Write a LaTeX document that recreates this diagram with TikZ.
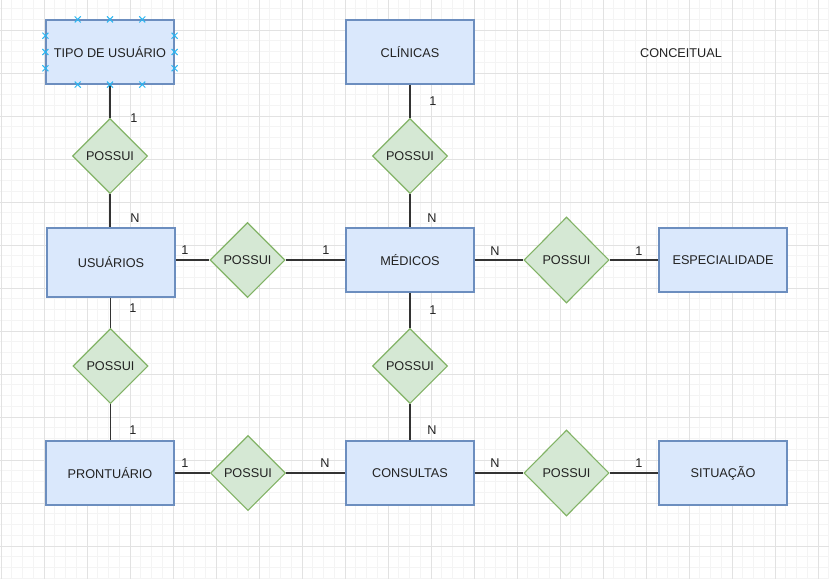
\documentclass[tikz,border=0pt]{standalone}
\usepackage{fontspec}
\setmainfont{Liberation Sans}
\usetikzlibrary{shapes.geometric,calc}

\definecolor{entfill}{HTML}{DAE8FC}
\definecolor{entline}{HTML}{6C8EBF}
\definecolor{relfill}{HTML}{D5E8D4}
\definecolor{relline}{HTML}{82B366}
\definecolor{gridminor}{HTML}{F4F4F4}
\definecolor{gridmajor}{HTML}{E2E2E2}
\definecolor{linkcol}{HTML}{333333}
\definecolor{textcol}{HTML}{222222}
\definecolor{handle}{HTML}{29B6F2}

\tikzset{
  base/.style={font=\fontsize{12.7}{15}\selectfont, text=textcol},
  entity/.style={base, draw=entline, fill=entfill, line width=1.1pt,
    minimum width=128pt, minimum height=64pt, inner sep=0pt},
  relation/.style={base, diamond, draw=relline, fill=relfill, line width=1.1pt,
    minimum width=75pt, minimum height=75pt, inner sep=0pt},
  bigrel/.style={relation, minimum width=85pt, minimum height=86pt},
  link/.style={draw=linkcol, line width=1.3pt},
  card/.style={base, inner sep=0pt},
  handlemark/.style={draw=handle, line width=1pt},
}

\begin{document}
\begin{tikzpicture}[x=1pt, y=-1pt]
  \useasboundingbox (0,0) rectangle (829,579);
  \fill[white] (0,0) rectangle (829,579);

  % background grid: fine lines, then every fourth line stronger
  \begin{scope}
    \clip (0,0) rectangle (829,579);
    \draw[gridminor, line width=0.8pt]
      foreach \k in {0,...,77} { ({1+10.75*\k},0) -- ({1+10.75*\k},579) }
      foreach \k in {-2,...,51} { (0,{30+10.75*\k}) -- (829,{30+10.75*\k}) };
    \draw[gridmajor, line width=0.9pt]
      foreach \k in {0,...,19} { ({1+43*\k},0) -- ({1+43*\k},579) }
      foreach \k in {0,...,12} { (0,{30+43*\k}) -- (829,{30+43*\k}) };
  \end{scope}

  % entities
  \node[entity] (tipo)  at (110,52)    {TIPO DE USUÁRIO};
  \node[entity] (clin)  at (410,52)    {CLÍNICAS};
  \node[entity, minimum height=69pt] (usu) at (111,262.5) {USUÁRIOS};
  \node[entity] (med)   at (410,260)   {MÉDICOS};
  \node[entity] (esp)   at (723,260)   {ESPECIALIDADE};
  \node[entity] (pront) at (110,473)   {PRONTUÁRIO};
  \node[entity] (cons)  at (410,473)   {CONSULTAS};
  \node[entity] (sit)   at (723,473)   {SITUAÇÃO};

  % relationships
  \node[relation] (rtipo)  at (110,156)   {POSSUI};
  \node[relation] (rclin)  at (410,156)   {POSSUI};
  \node[relation] (rusmed) at (247.5,260) {POSSUI};
  \node[bigrel]   (resp)   at (566.5,260) {POSSUI};
  \node[relation] (rpront) at (110.5,366) {POSSUI};
  \node[relation] (rcons)  at (410,366)   {POSSUI};
  \node[relation] (rprco)  at (248,473)   {POSSUI};
  \node[bigrel]   (rsit)   at (566.5,473) {POSSUI};

  % connectors
  \draw[link] (tipo.south) -- (rtipo.north);
  \draw[link] (rtipo.south) -- (usu.north -| rtipo.south);
  \draw[link] (clin.south) -- (rclin.north);
  \draw[link] (rclin.south) -- (med.north);
  \draw[link] (usu.east |- rusmed.west) -- (rusmed.west);
  \draw[link] (rusmed.east) -- (med.west);
  \draw[link] (med.east) -- (resp.west);
  \draw[link] (resp.east) -- (esp.west);
  \draw[link] (usu.south -| rpront.north) -- (rpront.north);
  \draw[link] (rpront.south) -- (pront.north -| rpront.south);
  \draw[link] (med.south) -- (rcons.north);
  \draw[link] (rcons.south) -- (cons.north);
  \draw[link] (pront.east) -- (rprco.west);
  \draw[link] (rprco.east) -- (cons.west);
  \draw[link] (cons.east) -- (rsit.west);
  \draw[link] (rsit.east) -- (sit.west);

  % cardinalities
  \node[card] (c1)  at (134,118) {1};
  \node[card] (c2)  at (135,218) {N};
  \node[card] (c3)  at (185,250) {1};
  \node[card] (c4)  at (326,250) {1};
  \node[card] (c5)  at (133,308) {1};
  \node[card] (c6)  at (133,430) {1};
  \node[card] (c7)  at (185,463) {1};
  \node[card] (c8)  at (325,463) {N};
  \node[card] (c9)  at (433,101) {1};
  \node[card] (c10) at (432,218) {N};
  \node[card] (c11) at (433,310) {1};
  \node[card] (c12) at (432,430) {N};
  \node[card] (c13) at (495,251) {N};
  \node[card] (c14) at (639,251) {1};
  \node[card] (c15) at (495,463) {N};
  \node[card] (c16) at (639,463) {1};

  % title
  \node[base] (title) at (681,53) {CONCEITUAL};

  % connection handles on the selected entity
  \foreach \f in {0.25,0.5,0.75} {
    \foreach \a/\b in {north west/north east, south west/south east,
                       north west/south west, north east/south east} {
      \coordinate (h) at ($(tipo.\a)!\f!(tipo.\b)$);
      \draw[handlemark] ($(h)+(-3,-3)$) -- ($(h)+(3,3)$)
                        ($(h)+(-3,3)$) -- ($(h)+(3,-3)$);
    }
  }
\end{tikzpicture}
\end{document}
